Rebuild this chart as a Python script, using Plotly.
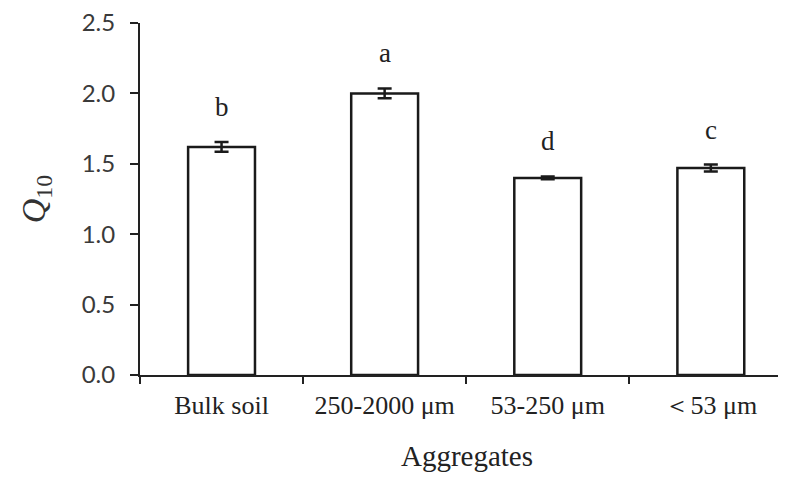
import plotly.graph_objects as go

categories = ["Bulk soil", "250-2000 μm", "53-250 μm", "＜53 μm"]
q10_values = [1.62, 2.00, 1.40, 1.47]
q10_errors = [0.035, 0.035, 0.01, 0.025]
letters = ["b", "a", "d", "c"]
y_ticks = [0.0, 0.5, 1.0, 1.5, 2.0, 2.5]

fig = go.Figure()
fig.add_trace(go.Bar(
    x=categories, y=q10_values, width=0.41,
    marker=dict(color="white", line=dict(color="#1a1a1a", width=2.5)),
    error_y=dict(type="data", array=q10_errors, visible=True,
                 color="#1a1a1a", thickness=2.5, width=7),
    showlegend=False,
))

for c, v, e, l in zip(categories, q10_values, q10_errors, letters):
    fig.add_annotation(x=c, y=v + e, text=l, showarrow=False,
                       yanchor="bottom", yshift=18,
                       font=dict(family="Liberation Serif", size=27, color="#222"))

fig.update_layout(
    width=786, height=486,
    margin=dict(l=132, r=0, t=15, b=119),
    paper_bgcolor="white", plot_bgcolor="white",
    xaxis=dict(
        type="category", range=[-0.5, 3.51], automargin=False,
        showline=True, linecolor="#222", linewidth=2,
        ticks="outside", tickson="boundaries", ticklen=7, tickwidth=2, tickcolor="#222",
        tickfont=dict(family="Liberation Serif", size=26, color="#222"),
        ticklabelstandoff=6,
        showgrid=False,
        title=dict(text="Aggregates", standoff=26,
                   font=dict(family="Liberation Serif", size=29, color="#222")),
    ),
    yaxis=dict(
        range=[0, 2.5001], tickvals=y_ticks, tickformat=".1f", automargin=False,
        ticklabeloverflow="allow",
        showline=True, linecolor="#222", linewidth=2,
        ticks="outside", ticklen=8, tickwidth=2, tickcolor="#222",
        tickfont=dict(family="Lato", size=24, color="#3a3a3a"),
        ticklabelstandoff=10,
        showgrid=False, zeroline=False,
        title=dict(text="<i>Q</i><sub>10</sub>", standoff=26,
                   font=dict(family="Liberation Serif", size=34, color="#333")),
    ),
)

fig.write_html("out.html")
